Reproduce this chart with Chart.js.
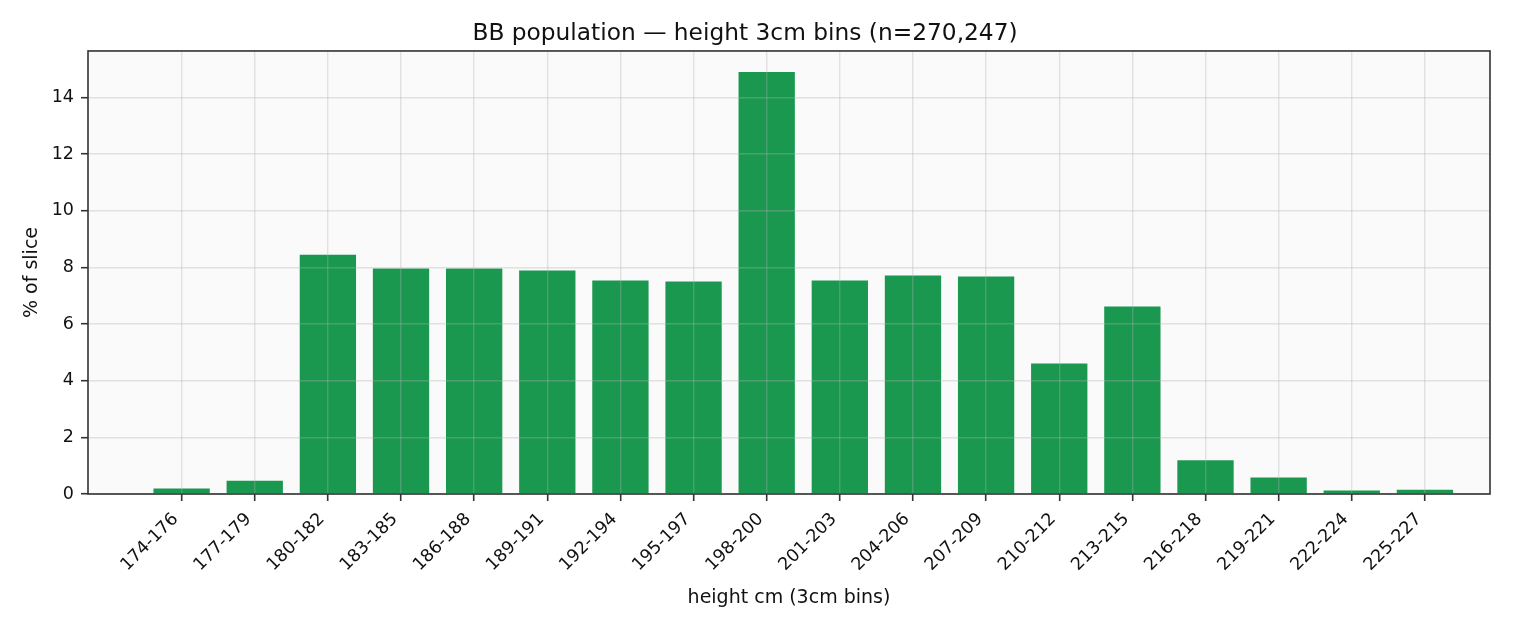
<!DOCTYPE html>
<html>
<head>
<meta charset="utf-8">
<script src="https://cdn.jsdelivr.net/npm/chart.js@4"></script>
<style>
  html, body { margin: 0; padding: 0; background: #fff; }
  canvas { display: block; }
</style>
</head>
<body>
<canvas id="chart" width="1540" height="630"></canvas>
<script>
// height bins (3cm) and share of slice in %
var bins = ['174-176','177-179','180-182','183-185','186-188','189-191','192-194','195-197','198-200',
            '201-203','204-206','207-209','210-212','213-215','216-218','219-221','222-224','225-227'];
var pct = [0.19, 0.47, 8.45, 7.96, 7.96, 7.89, 7.54, 7.50, 14.90,
           7.54, 7.72, 7.68, 4.61, 6.62, 1.19, 0.58, 0.12, 0.15];
var yTicks = [0, 2, 4, 6, 8, 10, 12, 14];

var font = "'DejaVu Sans', sans-serif";
var gridCol = 'rgba(176,176,176,0.33)';

// plot background + full frame like matplotlib axes
var framePlugin = {
    id: 'frame',
    beforeDraw: function(chart){
        var a = chart.chartArea, c = chart.ctx;
        c.save();
        c.fillStyle = '#fafafa';
        c.fillRect(a.left, a.top, a.right - a.left, a.bottom - a.top);
        c.restore();
    },
    afterDraw: function(chart){
        var a = chart.chartArea, c = chart.ctx;
        c.save();
        c.strokeStyle = '#333';
        c.lineWidth = 1.6;
        c.strokeRect(a.left, a.top, a.right - a.left, a.bottom - a.top);
        c.restore();
    }
};

var data_pts = pct.map(function(v, i){ return {x: i, y: v}; });
var yMax = Math.max.apply(null, pct) * 1.05;

new Chart(document.getElementById('chart'), {
    type: 'bar',
    data: {
        datasets: [{
            data: data_pts,
            backgroundColor: '#1b9850',
            borderWidth: 0,
            categoryPercentage: 1.0,
            barPercentage: 0.77
        }]
    },
    options: {
        responsive: false,
        animation: false,
        devicePixelRatio: 1,
        layout: { padding: { left: 0, right: 50, top: 0, bottom: 0 } },
        plugins: {
            legend: { display: false },
            tooltip: { enabled: false },
            title: {
                display: true,
                text: 'BB population — height 3cm bins (n=270,247)',
                color: '#111',
                font: { family: font, size: 23.3, weight: 'normal', lineHeight: 1.2 },
                padding: { top: 20, bottom: 3 }
            }
        },
        scales: {
            x: {
                type: 'linear',
                offset: false,
                min: -1.28,
                max: 17.89,
                afterBuildTicks: function(axis){
                    axis.ticks = bins.map(function(b, i){ return {value: i}; });
                },
                afterFit: function(axis){ axis.height = 136; },
                ticks: {
                    autoSkip: false,
                    maxRotation: 45,
                    minRotation: 45,
                    color: '#111',
                    padding: 8,
                    labelOffset: -6,
                    font: { family: font, size: 17.5 },
                    callback: function(v){ return bins[v]; }
                },
                grid: {
                    z: 1,
                    offset: false,
                    color: gridCol,
                    tickColor: '#333',
                    tickLength: 7,
                    tickWidth: 1.6,
                    lineWidth: 1.4
                },
                border: { display: false },
                title: {
                    display: true,
                    text: 'height cm (3cm bins)',
                    color: '#111',
                    font: { family: font, size: 19, lineHeight: 1.2 },
                    padding: { top: 4, bottom: 21 }
                }
            },
            y: {
                min: 0,
                max: yMax,
                afterBuildTicks: function(axis){
                    axis.ticks = yTicks.map(function(t){ return {value: t}; });
                },
                afterFit: function(axis){ axis.width = 88; },
                ticks: {
                    color: '#111',
                    padding: 7,
                    font: { family: font, size: 17.5 }
                },
                grid: {
                    z: 1,
                    color: gridCol,
                    tickColor: '#333',
                    tickLength: 7,
                    tickWidth: 1.6,
                    lineWidth: 1.4
                },
                border: { display: false },
                title: {
                    display: true,
                    text: '% of slice',
                    color: '#111',
                    font: { family: font, size: 19, lineHeight: 1.2 },
                    padding: { top: 21, bottom: 0 }
                }
            }
        }
    },
    plugins: [framePlugin]
});
</script>
</body>
</html>
